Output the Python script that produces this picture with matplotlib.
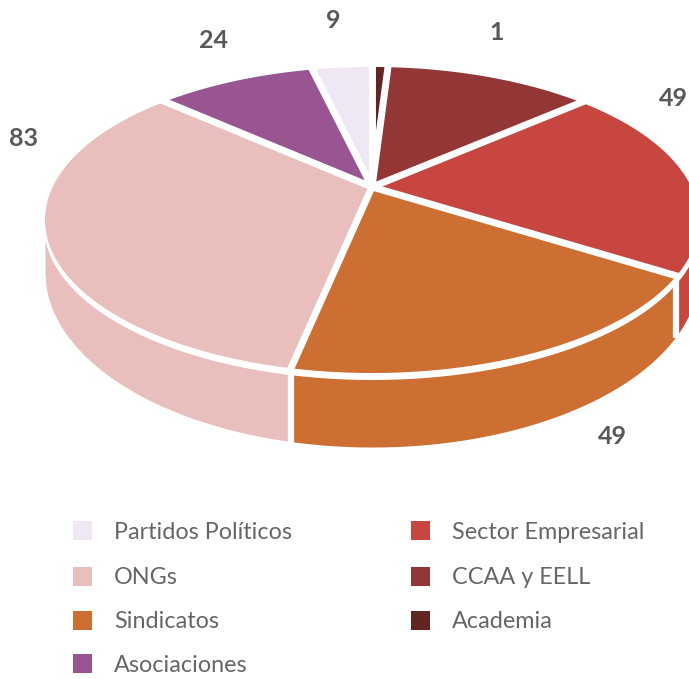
import numpy as np
import matplotlib
matplotlib.use("Agg")
import matplotlib.pyplot as plt
from matplotlib.patches import Rectangle

# data, clockwise from 12 o'clock
names = ["Academia", "CCAA y EELL", "Sector Empresarial", "Sindicatos", "ONGs", "Asociaciones", "Partidos Políticos"]
values = [2.4, 31, 51, 47.5, 83, 24, 9]
colors = ["#622622", "#923735", "#C74640", "#CD6E32", "#E9BFBD", "#985592", "#EFE7F3"]

# value labels as printed on the chart
label_text = ["9", "1", "49", "49", "83", "24"]
label_x = [333, 497, 673, 612, 24, 214]
label_y = [20, 32, 98, 436, 138, 40]

legend_left = ["Partidos Políticos", "ONGs", "Sindicatos", "Asociaciones"]
legend_right = ["Sector Empresarial", "CCAA y EELL", "Academia"]

# geometry of the tilted disc, in pixels
cx, cy = 372, 187  # where the slices meet
rx = 327
k = 66 / 306  # perspective
ry_p = 120 * (1 + k)
rx_p = rx * np.sqrt(1 - k ** 2)


def project(theta):
    # theta in radians, clockwise from top
    u, v = np.sin(theta), np.cos(theta)
    w = 1 + k * v
    return cx + rx_p * u / w, cy - ry_p * v / w


def side_top(x):
    return 225 + 154.5 * np.sqrt(np.clip(1 - ((x - cx) / 328.5) ** 2, 0, 1))


def side_bottom(x):
    return 272 + 175 * np.sqrt(np.clip(1 - ((x - cx) / rx) ** 2, 0, 1))


fig = plt.figure(figsize=(6.89, 6.79), dpi=100)
ax = fig.add_axes([0, 0, 1, 1])
ax.set_xlim(0, 689)
ax.set_ylim(679, 0)
ax.axis("off")

edges = np.radians(np.concatenate([[0], np.cumsum(values)]) / np.sum(values) * 360)

# side walls first
for i in range(len(values)):
    a0, a1 = edges[i], edges[i + 1]
    if a1 <= np.pi / 2 or a0 >= 3 * np.pi / 2:
        continue
    x0 = project(max(a0, np.pi / 2))[0] if a0 > np.pi / 2 else cx + rx
    x1 = project(a1)[0] if a1 < 3 * np.pi / 2 else cx - rx
    xs = np.linspace(x1, x0, 300)
    ax.fill_between(xs, side_top(xs), side_bottom(xs), color=colors[i], lw=0)
    if a1 < 3 * np.pi / 2:
        ax.plot([x1, x1], [side_top(x1) - 2, side_bottom(x1) + 2], color="white", lw=4.5, solid_capstyle="butt")

# top of the disc
for i in range(len(values)):
    t = np.linspace(edges[i], edges[i + 1], 200)
    px, py = project(t)
    ax.fill(np.r_[cx, px], np.r_[cy, py], color=colors[i], lw=0)

# white gaps between the slices
for a in edges[:-1]:
    px, py = project(a)
    ax.plot([cx, px], [cy, py], color="white", lw=5, solid_capstyle="projecting")

for s, x, y in zip(label_text, label_x, label_y):
    ax.text(x, y, s, ha="center", va="center", fontsize=18, fontweight="bold", family="Lato", color="#58595B")

lookup = dict(zip(names, colors))
rows = [530.5, 576.5, 620.5, 663.5]
baselines = [539, 584, 628, 672]
for col_x, col_names in [(73, legend_left), (411, legend_right)]:
    for name, y, b in zip(col_names, rows, baselines):
        ax.add_patch(Rectangle((col_x, y - 9.5), 19, 19, color=lookup[name], lw=0))
        ax.text(col_x + 41, b, name, ha="left", va="baseline", fontsize=16.8, fontweight="normal", family="Lato", color="#666668")

fig.savefig("out.png", dpi=100)
